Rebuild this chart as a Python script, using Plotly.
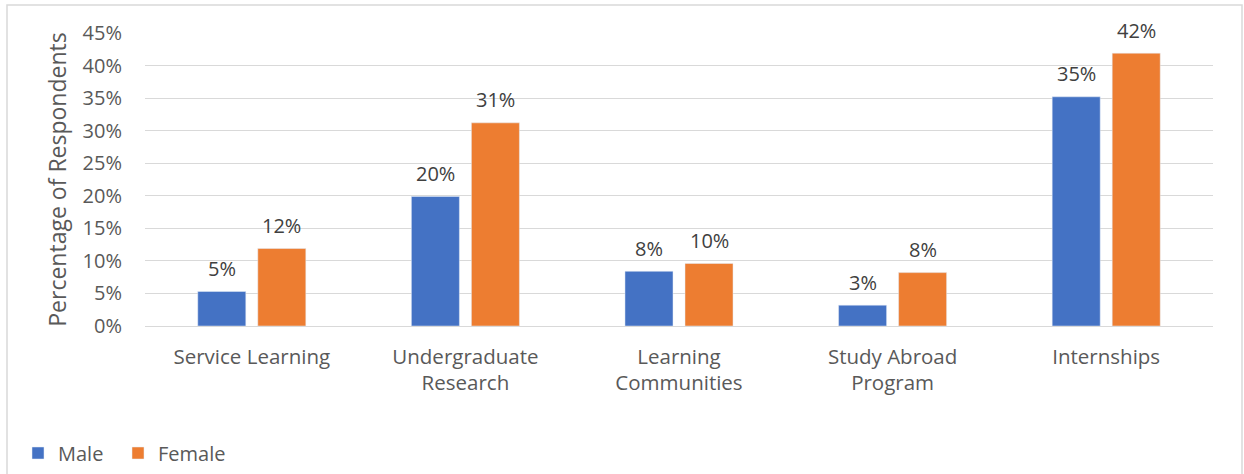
import plotly.graph_objects as go

categories = ["Service Learning", "Undergraduate<br>Research", "Learning<br>Communities",
              "Study Abroad<br>Program", "Internships"]
male = [0.053, 0.199, 0.084, 0.032, 0.352]
female = [0.119, 0.312, 0.096, 0.082, 0.419]
y_ticks = [0, 0.05, 0.10, 0.15, 0.20, 0.25, 0.30, 0.35, 0.40, 0.45]

BLUE = "#4472C4"
ORANGE = "#ED7D31"
FONT = "Open Sans"
GRID = "#D9D9D9"

W, H = 1244, 474
L, R, T, B = 145, 31, 33, 148

fig = go.Figure()
fig.add_trace(go.Bar(name="Male", x=categories, y=male, marker_color=BLUE,
                     textposition="none", legend="legend"))
fig.add_trace(go.Bar(name="Female", x=categories, y=female, marker_color=ORANGE,
                     textposition="none", legend="legend2"))

# data labels above bars
for vals, shift in ((male, -30), (female, 30)):
    for c, v in zip(categories, vals):
        fig.add_annotation(x=c, y=v, text=f"{v:.0%}", showarrow=False,
                           xshift=shift, yshift=23, yanchor="middle",
                           font=dict(family=FONT, size=20, color="#404040"))

pw = W - L - R
ph = H - T - B
def px2x(px):
    return (px - L) / pw
def py2y(py):
    return (H - B - py) / ph

# outer chart border (bottom edge off-canvas)
fig.add_shape(type="rect", xref="paper", yref="paper",
              x0=px2x(7), x1=px2x(1242), y0=py2y(490), y1=py2y(5),
              line=dict(color="#D9D9D9", width=1.5), fillcolor="rgba(0,0,0,0)")

leg_common = dict(orientation="h", xanchor="left", y=py2y(453), yanchor="middle",
                  font=dict(family=FONT, size=20, color="#595959"),
                  itemwidth=30, bgcolor="rgba(0,0,0,0)")

fig.update_layout(
    width=W, height=H,
    margin=dict(l=L, r=R, t=T, b=B, autoexpand=False),
    paper_bgcolor="white", plot_bgcolor="white",
    barmode="group", bargap=0.438, bargroupgap=0.2,
    font=dict(family=FONT, size=20, color="#595959"),
    showlegend=True,
    legend=dict(x=px2x(18), **leg_common),
    legend2=dict(x=px2x(118), **leg_common),
    xaxis=dict(showgrid=False, showline=False, ticks="", ticklabelstandoff=16,
               tickfont=dict(family=FONT, size=20.5, color="#595959")),
    yaxis=dict(range=[0, 0.45], tickvals=y_ticks, tickformat=".0%",
               showgrid=True, gridcolor=GRID, gridwidth=1.3,
               zeroline=True, zerolinecolor=GRID, zerolinewidth=1.3,
               showline=False, ticks="", ticklabelstandoff=22,
               tickfont=dict(family=FONT, size=20, color="#595959"),
               title=dict(text="Percentage of Respondents", standoff=9,
                          font=dict(family=FONT, size=23, color="#595959"))),
)

fig.write_html("out.html", config={"displayModeBar": False},
               post_script="document.body.style.margin='0';")
